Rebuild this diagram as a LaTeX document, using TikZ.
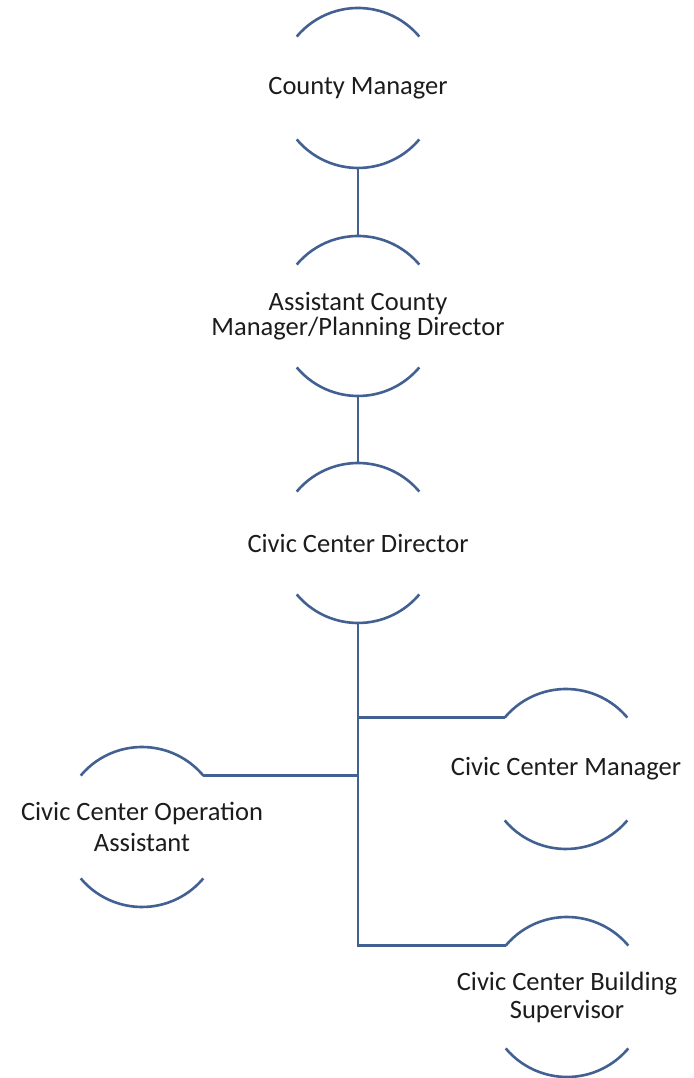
\documentclass[tikz,border=0pt]{standalone}
\usepackage{fontspec}
\setmainfont{Carlito}
\usepackage{tikz}
\usetikzlibrary{positioning, calc}
\usepackage{xcolor}
\definecolor{arcblue}{RGB}{66,96,146}
\definecolor{txtgray}{RGB}{28,28,28}

\begin{document}
\begin{tikzpicture}[x=1pt,y=1pt,
    role/.style={circle,minimum size=160pt,inner sep=0pt,outer sep=0pt},
    roletext/.style={align=center,text=txtgray,font=\fontsize{26.5}{31}\selectfont},
    link/.style={arcblue,line width=2.6pt}]
  \useasboundingbox (0,0) rectangle (693,1078);
  % positions of the posts
  \node[role,label={[roletext]center:County Manager}] (cm) at (358,990) {};
  \node[role,label={[roletext,font=\fontsize{26.5}{25}\selectfont]center:Assistant County\\Manager/Planning Director}] (acm) at (358,762) {};
  \node[role,label={[roletext]center:Civic Center Director}] (ccd) at (358,535) {};
  \node[role,label={[roletext]center:Civic Center Manager}] (ccm) at (566,309) {};
  \node[role,label={[roletext]center:Civic Center Operation\\Assistant}] (cco) at (142,251) {};
  \node[role,label={[roletext,font=\fontsize{26.5}{28}\selectfont]center:Civic Center Building\\Supervisor}] (ccb) at (567,81) {};
  % upper and lower arcs
  \foreach \n in {cm,acm,ccd,ccm,cco,ccb} {
    \draw[link] (\n.140) arc (140:40:80pt);
    \draw[link] (\n.220) arc (220:320:80pt);
  }
  % connectors
  \draw[link] (cm.south) -- (acm.north);
  \draw[link] (acm.south) -- (ccd.north);
  \draw[link] (ccd.south) |- (ccm.140);
  \draw[link] (ccd.south) |- (ccb.140);
  \draw[link] (cco.40) -- (cco.40 -| ccd.south);
\end{tikzpicture}
\end{document}
